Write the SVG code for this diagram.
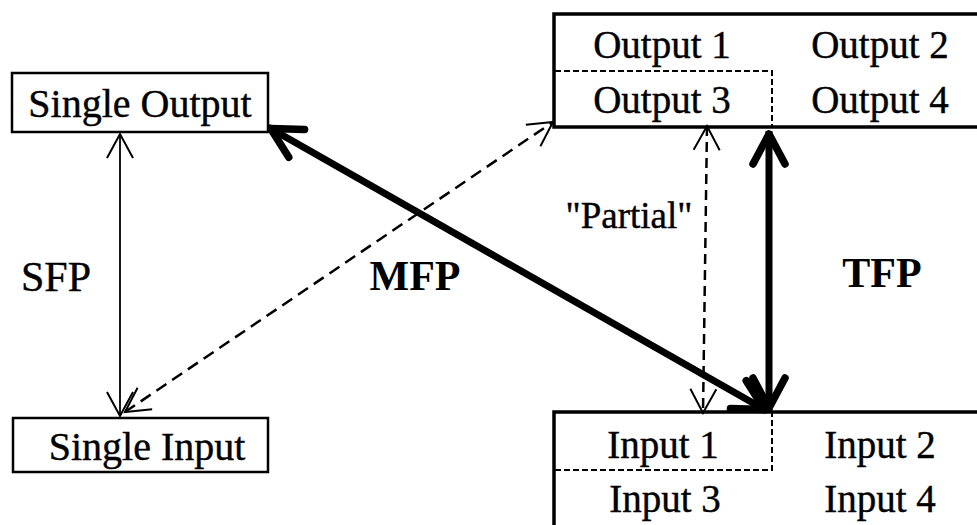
<svg xmlns="http://www.w3.org/2000/svg" width="977" height="525" viewBox="0 0 977 525">
<style>
  text { font-family: "Liberation Serif", "Times New Roman", serif; fill: #000; }
  .lbl { font-size: 39px; text-anchor: middle; stroke: #000; stroke-width: 0.4; }
  .big { font-size: 42px; text-anchor: middle; stroke: #000; stroke-width: 0.4; }
  .bold { font-size: 42px; font-weight: bold; text-anchor: middle; }
  .box { fill: #fff; stroke: #000; }
  .inner { fill: none; stroke: #000; stroke-width: 2; stroke-dasharray: 6 3; }
  .thin { stroke: #000; stroke-width: 1.8; fill: none; }
  .dash { stroke: #000; stroke-width: 2.5; fill: none; stroke-dasharray: 12 7; }
  .thick { stroke: #000; stroke-width: 7; fill: none; }
</style>
<defs>
  <marker id="open" viewBox="-30 -20 40 40" refX="0" refY="0" markerWidth="40" markerHeight="40" markerUnits="userSpaceOnUse" orient="auto-start-reverse">
    <path d="M-24,-13 L0,0 L-24,13" fill="none" stroke="#000" stroke-width="2"/>
  </marker>
  <marker id="bold" viewBox="-45 -30 60 60" refX="3" refY="0" markerWidth="60" markerHeight="60" markerUnits="userSpaceOnUse" orient="auto-start-reverse">
    <path d="M-30,-16 L0,0 L-30,16" fill="none" stroke="#000" stroke-width="7.5" stroke-linecap="round" stroke-linejoin="round"/>
  </marker>
</defs>

<g id="connectors">
  <line id="sfp-line" class="thin" x1="120" y1="134" x2="120" y2="416" marker-start="url(#open)" marker-end="url(#open)"/>
  <line id="dashed-diag" class="dash" x1="125" y1="412" x2="553" y2="122" marker-start="url(#open)" marker-end="url(#open)"/>
  <line id="mfp-line" class="thick" x1="268" y1="127" x2="767" y2="411" marker-start="url(#bold)" marker-end="url(#bold)"/>
  <line id="tfp-line" class="thick" x1="769" y1="131" x2="769" y2="411" marker-start="url(#bold)" marker-end="url(#bold)"/>
  <line id="partial-line" class="dash" style="stroke-dasharray:10 6" x1="707" y1="126" x2="703" y2="413" marker-start="url(#open)" marker-end="url(#open)"/>
</g>

<g id="single-output">
  <rect class="box" x="12" y="73" width="256" height="59" stroke-width="2.5"/>
  <text class="lbl" x="140" y="117" style="font-size:40px">Single Output</text>
</g>

<g id="single-input">
  <rect class="box" x="13" y="418" width="255" height="54" stroke-width="2.5"/>
  <text class="lbl" x="147" y="460" style="font-size:40px">Single Input</text>
</g>

<g id="outputs">
  <rect class="box" x="554" y="14" width="500" height="113" stroke-width="3.5" style="fill:none"/>
  <path class="inner" d="M555,71 H772 V126"/>
  <text class="lbl" x="662" y="58">Output 1</text>
  <text class="lbl" x="880" y="58">Output 2</text>
  <text class="lbl" x="662" y="113">Output 3</text>
  <text class="lbl" x="880" y="113">Output 4</text>
</g>

<g id="inputs">
  <rect class="box" x="554" y="412" width="500" height="140" stroke-width="3.5" style="fill:none"/>
  <path class="inner" d="M555,470 H772 V413"/>
  <text class="lbl" x="663" y="458">Input 1</text>
  <text class="lbl" x="880" y="458">Input 2</text>
  <text class="lbl" x="665" y="512">Input 3</text>
  <text class="lbl" x="880" y="512">Input 4</text>
</g>

<g id="labels">
  <text class="big" x="56" y="291">SFP</text>
  <text class="bold" x="415" y="290">MFP</text>
  <text class="bold" x="882" y="287">TFP</text>
  <text class="lbl" x="629" y="228" style="font-size:37px">"Partial"</text>
</g>
</svg>
